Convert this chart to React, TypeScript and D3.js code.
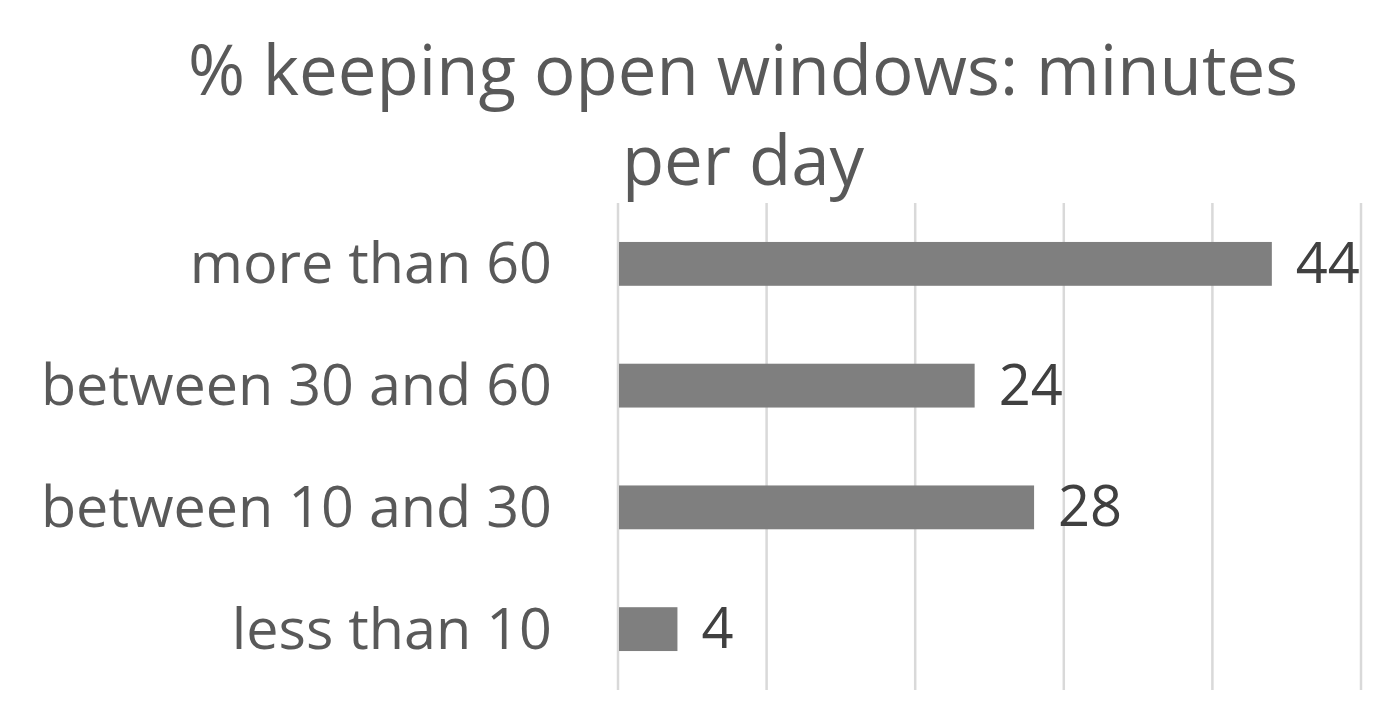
import React, { useEffect, useRef } from "react";
import * as d3 from "d3";

const categories = ["more than 60", "between 30 and 60", "between 10 and 30", "less than 10"];
const values = [44, 24, 28, 4];
const xTicks = [0, 10, 20, 30, 40, 50];
const titleLines = ["% keeping open windows: minutes", "per day"];

const W = 1397;
const H = 728;

export default function App() {
  const ref = useRef<SVGSVGElement>(null);

  useEffect(() => {
    const svg = d3.select(ref.current);
    svg.selectAll("*").remove();
    const font = "'Open Sans', sans-serif";

    const x = d3.scaleLinear().domain([0, 50]).range([618, 1361]);
    const y = d3.scaleBand().domain(categories).range([203, 690]).paddingInner(0.64).paddingOuter(0.32);

    svg.append("rect").attr("width", W).attr("height", H).attr("fill", "#fff");

    // title
    svg
      .append("g")
      .selectAll("text")
      .data(titleLines)
      .enter()
      .append("text")
      .attr("x", 743)
      .attr("y", (d, i) => 95 + i * 90)
      .attr("text-anchor", "middle")
      .attr("font-family", font)
      .attr("font-size", 69)
      .attr("fill", "#595959")
      .text((d) => d);

    // gridlines
    svg
      .append("g")
      .selectAll("line")
      .data(xTicks)
      .enter()
      .append("line")
      .attr("x1", (d) => x(d))
      .attr("x2", (d) => x(d))
      .attr("y1", 203)
      .attr("y2", 690)
      .attr("stroke", "#d9d9d9")
      .attr("stroke-width", 2.5);

    // bars
    svg
      .append("g")
      .selectAll("rect")
      .data(values)
      .enter()
      .append("rect")
      .attr("x", x(0) + 1)
      .attr("y", (d, i) => y(categories[i])!)
      .attr("width", (d) => x(d) - x(0) - 1)
      .attr("height", y.bandwidth())
      .attr("fill", "#7f7f7f");

    // category labels
    svg
      .append("g")
      .selectAll("text")
      .data(categories)
      .enter()
      .append("text")
      .attr("x", 552)
      .attr("y", (d) => y(d)! + y.bandwidth() / 2)
      .attr("dy", "0.34em")
      .attr("text-anchor", "end")
      .attr("font-family", font)
      .attr("font-size", 57.5)
      .attr("fill", "#595959")
      .text((d) => d);

    // value labels
    svg
      .append("g")
      .selectAll("text")
      .data(values)
      .enter()
      .append("text")
      .attr("x", (d) => x(d) + 24)
      .attr("y", (d, i) => y(categories[i])! + y.bandwidth() / 2)
      .attr("dy", "0.34em")
      .attr("font-family", font)
      .attr("font-size", 56)
      .attr("fill", "#404040")
      .text((d) => d);
  }, []);

  return <svg ref={ref} width={W} height={H} style={{ display: "block", margin: -8 }} />;
}
